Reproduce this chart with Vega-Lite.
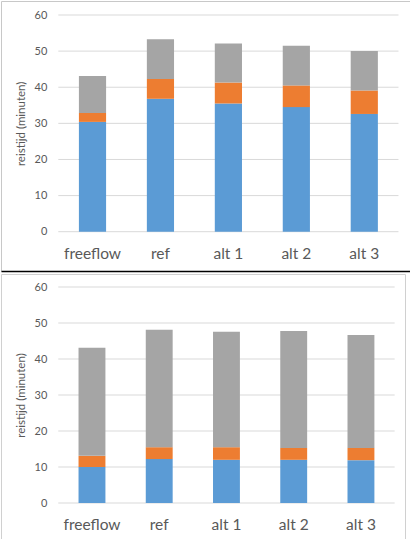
{
  "$schema": "https://vega.github.io/schema/vega-lite/v6.json",
  "padding": 0,
  "spacing": 1,
  "config": {
    "font": "Lato",
    "axis": {"labelColor": "#595959", "titleColor": "#595959"},
    "legend": {"disable": true}
  },
  "datasets": {
    "grid": [{"g": 0}, {"g": 10}, {"g": 20}, {"g": 30}, {"g": 40}, {"g": 50}, {"g": 60}],
    "top": [
      {"cat": "freeflow", "part": "deel 1", "val": 30.4},
      {"cat": "freeflow", "part": "deel 2", "val": 2.5},
      {"cat": "freeflow", "part": "deel 3", "val": 10.2},
      {"cat": "ref", "part": "deel 1", "val": 36.8},
      {"cat": "ref", "part": "deel 2", "val": 5.5},
      {"cat": "ref", "part": "deel 3", "val": 11.0},
      {"cat": "alt 1", "part": "deel 1", "val": 35.5},
      {"cat": "alt 1", "part": "deel 2", "val": 5.8},
      {"cat": "alt 1", "part": "deel 3", "val": 10.8},
      {"cat": "alt 2", "part": "deel 1", "val": 34.5},
      {"cat": "alt 2", "part": "deel 2", "val": 6.0},
      {"cat": "alt 2", "part": "deel 3", "val": 11.0},
      {"cat": "alt 3", "part": "deel 1", "val": 32.6},
      {"cat": "alt 3", "part": "deel 2", "val": 6.5},
      {"cat": "alt 3", "part": "deel 3", "val": 10.9}
    ],
    "bot": [
      {"cat": "freeflow", "part": "deel 1", "val": 10.0},
      {"cat": "freeflow", "part": "deel 2", "val": 3.1},
      {"cat": "freeflow", "part": "deel 3", "val": 30.0},
      {"cat": "ref", "part": "deel 1", "val": 12.2},
      {"cat": "ref", "part": "deel 2", "val": 3.3},
      {"cat": "ref", "part": "deel 3", "val": 32.6},
      {"cat": "alt 1", "part": "deel 1", "val": 12.0},
      {"cat": "alt 1", "part": "deel 2", "val": 3.5},
      {"cat": "alt 1", "part": "deel 3", "val": 32.1},
      {"cat": "alt 2", "part": "deel 1", "val": 12.0},
      {"cat": "alt 2", "part": "deel 2", "val": 3.3},
      {"cat": "alt 2", "part": "deel 3", "val": 32.5},
      {"cat": "alt 3", "part": "deel 1", "val": 11.9},
      {"cat": "alt 3", "part": "deel 2", "val": 3.4},
      {"cat": "alt 3", "part": "deel 3", "val": 31.4}
    ]
  },
  "vconcat": [
    {
      "width": 410,
      "height": 270,
      "view": {"stroke": "#c8c8c8"},
      "encoding": {
        "x": {
          "type": "nominal",
          "scale": {"type": "band", "domain": ["freeflow", "ref", "alt 1", "alt 2", "alt 3"], "paddingInner": 0.6, "paddingOuter": 0.817, "align": 0.7017, "round": false},
          "axis": {"title": null, "orient": "bottom", "offset": 0, "bandPosition": 0.5, "domain": true, "domainColor": "#000000", "domainWidth": 1.5, "ticks": false, "labelAngle": 0, "labelAlign": "center", "labelFontSize": 15.5, "labelBaseline": "alphabetic", "labelPadding": -12.7}
        },
        "y": {
          "type": "quantitative",
          "scale": {"domain": [0, 60], "range": [230.7, 14], "nice": false},
          "axis": {"title": "reistijd (minuten)", "orient": "left", "offset": -57.3, "domain": false, "ticks": false, "grid": false, "values": [0, 10, 20, 30, 40, 50, 60], "labelFontSize": 11, "labelPadding": 11.5, "titleFontSize": 11.5, "titleFontWeight": "normal", "titlePadding": 8}
        }
      },
      "layer": [
        {
          "data": {"name": "grid"},
          "mark": {"type": "rule", "color": "#d9d9d9", "strokeWidth": 1, "xOffset": -20.6, "x2Offset": 20.6},
          "encoding": {
            "y": {"field": "g"},
            "x": {"datum": "freeflow", "bandPosition": 0},
            "x2": {"datum": "alt 3", "bandPosition": 1}
          }
        },
        {
          "data": {"name": "top"},
          "mark": {"type": "bar"},
          "encoding": {
            "x": {"field": "cat"},
            "y": {"field": "val", "stack": "zero"},
            "color": {"field": "part", "type": "nominal", "scale": {"domain": ["deel 1", "deel 2", "deel 3"], "range": ["#5B9BD5", "#ED7D31", "#A5A5A5"]}},
            "order": {"field": "part", "sort": "ascending"}
          }
        }
      ]
    },
    {
      "width": 404,
      "height": 268,
      "view": {"stroke": "#d0d0d0"},
      "encoding": {
        "x": {
          "type": "nominal",
          "scale": {"type": "band", "domain": ["freeflow", "ref", "alt 1", "alt 2", "alt 3"], "paddingInner": 0.6, "paddingOuter": 0.804, "align": 0.717, "round": false},
          "axis": {"title": null, "orient": "bottom", "bandPosition": 0.5, "domain": false, "ticks": false, "labelAngle": 0, "labelAlign": "center", "labelFontSize": 15.5, "labelBaseline": "alphabetic", "labelPadding": -12.3}
        },
        "y": {
          "type": "quantitative",
          "scale": {"domain": [0, 60], "range": [229, 13], "nice": false},
          "axis": {"title": "reistijd (minuten)", "orient": "left", "offset": -57.3, "domain": false, "ticks": false, "grid": false, "values": [0, 10, 20, 30, 40, 50, 60], "labelFontSize": 11, "labelPadding": 11.5, "titleFontSize": 11.5, "titleFontWeight": "normal", "titlePadding": 8}
        }
      },
      "layer": [
        {
          "data": {"name": "grid"},
          "mark": {"type": "rule", "color": "#d9d9d9", "strokeWidth": 1, "xOffset": -20.25, "x2Offset": 20.25},
          "encoding": {
            "y": {"field": "g"},
            "x": {"datum": "freeflow", "bandPosition": 0},
            "x2": {"datum": "alt 3", "bandPosition": 1}
          }
        },
        {
          "data": {"name": "bot"},
          "mark": {"type": "bar"},
          "encoding": {
            "x": {"field": "cat"},
            "y": {"field": "val", "stack": "zero"},
            "color": {"field": "part", "type": "nominal", "scale": {"domain": ["deel 1", "deel 2", "deel 3"], "range": ["#5B9BD5", "#ED7D31", "#A5A5A5"]}},
            "order": {"field": "part", "sort": "ascending"}
          }
        }
      ]
    }
  ]
}
